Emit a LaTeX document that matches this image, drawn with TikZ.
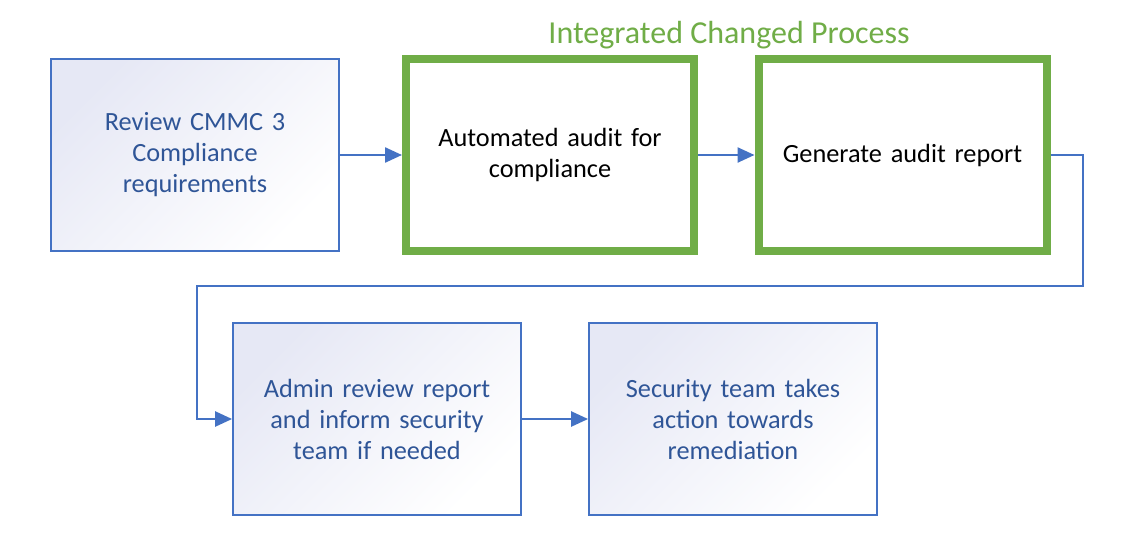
\documentclass[tikz,border=0pt]{standalone}
\usepackage{fontspec}
\setmainfont{Carlito}
\usetikzlibrary{arrows.meta}
\definecolor{boxblue}{HTML}{4472C4}
\definecolor{textblue}{HTML}{2F5597}
\definecolor{boxgreen}{HTML}{70AD47}
\definecolor{shadelav}{HTML}{E6E8F5}
\tikzset{
 stepbox/.style={draw=boxblue,line width=1.8pt,minimum width=288pt,minimum height=192pt,
   text width=270pt,align=center,text=textblue,font=\fontsize{26.3}{31}\selectfont,
   top color=shadelav,bottom color=white,shading angle=45},
 autobox/.style={draw=boxgreen,line width=8pt,minimum width=288pt,minimum height=192pt,
   text width=270pt,align=center,text=black,font=\fontsize{26.3}{31}\selectfont,fill=white},
 flow/.style={draw=boxblue,line width=2.4pt,-{Triangle[length=17pt,width=15pt]}}
}
\begin{document}
\begin{tikzpicture}[x=1pt,y=-1pt]
 \useasboundingbox[fill=white] (0,0) rectangle (1140,547);
 % top row
 \node[stepbox] (review) at (195,155) {Review CMMC 3\\Compliance\\requirements};
 \node[autobox] (audit) at (550,155) {Automated audit for\\compliance};
 \node[autobox] (report) at (902.5,155) {Generate audit report};
 \node[text=boxgreen,font=\fontsize{32}{36}\selectfont] (title) at (729,35) {Integrated Changed Process};
 % bottom row
 \node[stepbox] (admin) at (377,419) {Admin review report\\and inform security\\team if needed};
 \node[stepbox] (security) at (733,419) {Security team takes\\action towards\\remediation};
 % connectors
 \coordinate (turnA) at (1083,286);
 \coordinate (turnB) at (197,286);
 \draw[flow] (review) -- (audit);
 \draw[flow] (audit) -- (report);
 \draw[flow] (report.east) -| (turnA) -- (turnB) |- (admin.west);
 \draw[flow] (admin) -- (security);
\end{tikzpicture}
\end{document}
